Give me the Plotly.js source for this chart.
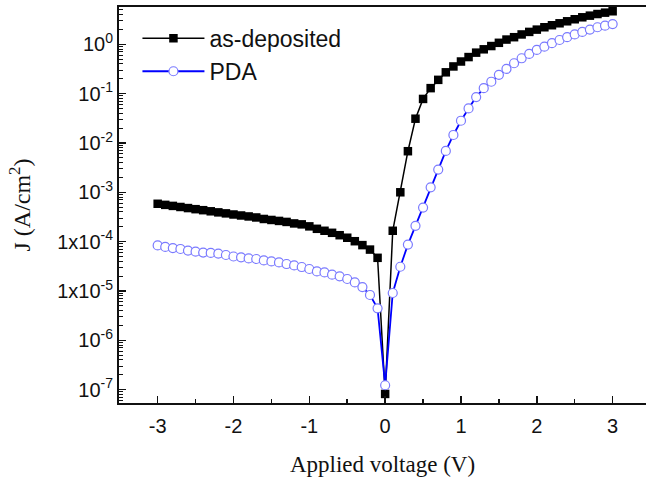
<!DOCTYPE html>
<html>
<head>
<meta charset="utf-8">
<script src="https://cdn.plot.ly/plotly-3.0.1.min.js"></script>
<style>html,body{margin:0;padding:0;background:#fff;}#chart{width:646px;height:480px;}</style>
</head>
<body>
<div id="chart"></div>
<script>
// Applied voltage (V), step 0.1 V from -3 to 3
const voltage = [-3.0,-2.9,-2.8,-2.7,-2.6,-2.5,-2.4,-2.3,-2.2,-2.1,-2.0,-1.9,-1.8,-1.7,-1.6,-1.5,-1.4,-1.3,-1.2,-1.1,-1.0,-0.9,-0.8,-0.7,-0.6,-0.5,-0.4,-0.3,-0.2,-0.1,0.0,
  0.1,0.2,0.3,0.4,0.5,0.6,0.7,0.8,0.9,1.0,1.1,1.2,1.3,1.4,1.5,1.6,1.7,1.8,1.9,2.0,2.1,2.2,2.3,2.4,2.5,2.6,2.7,2.8,2.9,3.0];

// J (A/cm^2) as-deposited
const jAsDeposited = [5.85e-4,5.56e-4,5.30e-4,5.04e-4,4.79e-4,4.55e-4,4.34e-4,4.12e-4,3.92e-4,3.74e-4,3.55e-4,3.39e-4,3.24e-4,3.09e-4,2.88e-4,2.75e-4,2.63e-4,2.51e-4,2.34e-4,2.24e-4,2.04e-4,1.82e-4,1.66e-4,1.51e-4,1.35e-4,1.20e-4,1.02e-4,8.5e-5,6.9e-5,4.7e-5,8.2e-8,
  1.66e-4,1.0e-3,6.8e-3,0.031,0.078,0.129,0.19,0.27,0.355,0.447,0.55,0.676,0.79,0.92,1.07,1.245,1.39,1.58,1.78,1.98,2.21,2.43,2.66,2.92,3.21,3.52,3.80,4.10,4.37,4.66];

// J (A/cm^2) PDA
const jPDA = [8.4e-5,7.8e-5,7.4e-5,7.1e-5,6.6e-5,6.25e-5,6.0e-5,5.9e-5,5.7e-5,5.36e-5,5.0e-5,4.8e-5,4.57e-5,4.45e-5,4.16e-5,3.97e-5,3.79e-5,3.52e-5,3.3e-5,3.06e-5,2.79e-5,2.49e-5,2.38e-5,2.14e-5,1.98e-5,1.75e-5,1.49e-5,1.2e-5,8.3e-6,4.45e-6,1.23e-7,
  9.1e-6,3.1e-5,8.7e-5,2.09e-4,4.9e-4,1.26e-3,2.88e-3,6.9e-3,0.0145,0.0282,0.050,0.085,0.129,0.174,0.24,0.316,0.412,0.52,0.637,0.767,0.893,1.05,1.22,1.39,1.58,1.78,1.98,2.21,2.38,2.57];

const seriesNames = ['as-deposited', 'PDA'];
const xTickVals = [-3,-2,-1,0,1,2,3];
const xTickText = ['-3','-2','-1','0','1','2','3'];
const yTickVals = [1e-7,1e-6,1e-5,1e-4,1e-3,1e-2,1e-1,1];
const yTickText = ['10<sup>-7</sup>','10<sup>-6</sup>','1x10<sup>-5</sup>','1x10<sup>-4</sup>','10<sup>-3</sup>','10<sup>-2</sup>','10<sup>-1</sup>','10<sup>0</sup>'];

const traces = [
  {
    x: voltage, y: jAsDeposited, name: seriesNames[0], type: 'scatter', mode: 'lines+markers',
    line: {color: '#000000', width: 1.5},
    marker: {symbol: 'square', size: 8.5, color: '#000000'}
  },
  {
    x: voltage, y: jPDA, name: seriesNames[1], type: 'scatter', mode: 'lines+markers',
    line: {color: '#0000ff', width: 1.8},
    marker: {symbol: 'circle', size: 9, color: '#ffffff', line: {color: '#7a7aff', width: 1.2}}
  }
];

const tickFont = {family: 'Liberation Sans, Arial, sans-serif', size: 20, color: '#111'};
const layout = {
  width: 646, height: 480,
  margin: {l: 119, r: 0, t: 7, b: 77},
  paper_bgcolor: '#fff', plot_bgcolor: '#fff',
  showlegend: true,
  legend: {
    x: 0.035, y: 0.975, xanchor: 'left', yanchor: 'top',
    font: {family: 'Liberation Sans, Arial, sans-serif', size: 23, color: '#111'},
    bgcolor: 'rgba(0,0,0,0)', itemwidth: 62, tracegroupgap: 0
  },
  xaxis: {
    range: [-3.51, 3.44], tickmode: 'array', tickvals: xTickVals, ticktext: xTickText,
    ticks: 'inside', ticklen: 7, tickwidth: 1.5, tickcolor: '#111', ticklabelstandoff: 4,
    minor: {ticks: 'inside', ticklen: 4, tickwidth: 1.5, dtick: 0.5, tick0: 0, tickcolor: '#111', showgrid: false},
    showline: true, linewidth: 2, linecolor: '#111', mirror: true,
    showgrid: false, zeroline: false, tickfont: tickFont,
    title: {text: 'Applied voltage (V)', font: {family: 'Liberation Serif, Times New Roman, serif', size: 23, color: '#111'}, standoff: 20}
  },
  yaxis: {
    type: 'log', range: [-7.27, 0.755], tickmode: 'array', tickvals: yTickVals, ticktext: yTickText,
    ticks: 'inside', ticklen: 7, tickwidth: 1.5, tickcolor: '#111',
    minor: {ticks: 'inside', ticklen: 4, tickwidth: 1, dtick: 'D1', tickcolor: '#111', showgrid: false},
    showline: true, linewidth: 2, linecolor: '#111',
    showgrid: false, zeroline: false, tickfont: tickFont,
    title: {text: 'J (A/cm<sup>2</sup>)', font: {family: 'Liberation Serif, Times New Roman, serif', size: 24, color: '#111'}, standoff: 20}
  }
};

Plotly.newPlot('chart', traces, layout, {displayModeBar: false, staticPlot: true});
</script>
</body>
</html>
